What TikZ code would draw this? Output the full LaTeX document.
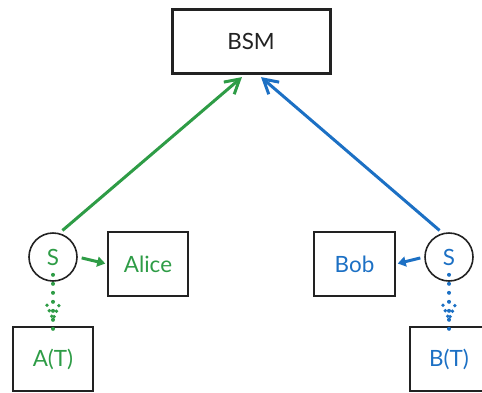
\documentclass[tikz,border=0pt]{standalone}
\usepackage{fontspec}
\setmainfont{Lato}
\usetikzlibrary{arrows.meta,calc}
\definecolor{gr}{RGB}{46,156,70}
\definecolor{bl}{RGB}{28,112,196}
\definecolor{ink}{RGB}{34,34,34}
\begin{document}
\begin{tikzpicture}[x=1bp,y=-1bp,
  box/.style={draw=ink,line width=1.6bp,rectangle,minimum width=80bp,minimum height=64bp,inner sep=0pt,font=\fontsize{22.5}{26}\selectfont},
  src/.style={draw=ink,line width=1.6bp,circle,minimum size=48bp,inner sep=0pt,font=\fontsize{22.5}{26}\selectfont},
  bigarrow/.style={line width=3bp,-{Straight Barb[length=14bp,width=16bp,line width=3bp]},shorten <=4bp,shorten >=4bp},
  smallarrow/.style={line width=3bp,-{Triangle[length=8bp,width=10bp]},shorten <=4bp,shorten >=2bp},
  dotline/.style={line width=4bp,line cap=round,dash pattern=on 0pt off 9bp},
  dottip/.style={line width=3.8bp,line cap=round,dash pattern=on 0pt off 6bp}
]
\useasboundingbox (0,0) rectangle (482,392);
\node[box,minimum width=158bp,line width=3bp,text=ink] (bsm) at (251,41) {BSM};
\node[src,text=gr] (sa) at (53,257) {S};
\node[src,text=bl] (sb) at (449,257) {S};
\node[box,text=gr] (alice) at (148,264) {Alice};
\node[box,minimum width=81bp,text=bl] (bob) at (354.5,264) {Bob};
\node[box,text=gr] (at) at (53,359) {A(T)};
\node[box,minimum width=78bp,text=bl] (bt) at (449,359) {B(T)};
\draw[bigarrow,gr] (sa.75) -- ([xshift=-6bp]bsm.south);
\draw[bigarrow,bl] (sb.105) -- ([xshift=7bp]bsm.south);
\draw[smallarrow,gr] (sa.east) -- (alice.west);
\draw[smallarrow,bl] (sb.west) -- (bob.east);
\draw[dotline,gr] ([yshift=7bp]sa.south) -- ([yshift=-7bp]at.north);
\draw[dotline,bl] ([yshift=7bp]sb.south) -- ([yshift=-7bp]bt.north);
\draw[dottip,gr] ($(at.north)+(-6,-21)$) -- ($(at.north)+(0,-7)$) -- ($(at.north)+(6,-21)$);
\draw[dottip,bl] ($(bt.north)+(-6,-21)$) -- ($(bt.north)+(0,-7)$) -- ($(bt.north)+(6,-21)$);
\end{tikzpicture}
\end{document}
